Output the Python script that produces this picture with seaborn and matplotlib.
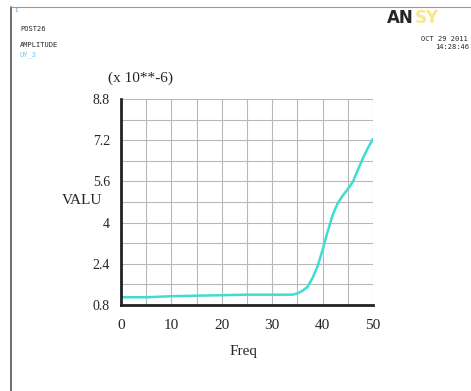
import matplotlib
matplotlib.use('Agg')
import matplotlib.pyplot as plt
import seaborn as sns
import pandas as pd

# valori (ampiezza x 10**-6)
freq = [0, 5, 10, 15, 20, 25, 30, 34, 35, 36, 37, 38, 39, 40, 41, 42, 43, 44, 45, 46, 47, 48, 49, 50]
valu = [1.1, 1.1, 1.14, 1.16, 1.18, 1.2, 1.2, 1.2, 1.25, 1.35, 1.5, 1.85, 2.3, 2.95, 3.65, 4.3, 4.75,
        5.05, 5.3, 5.58, 6.05, 6.5, 6.9, 7.25]
y_ticks = [0.8, 2.4, 4, 5.6, 7.2, 8.8]
x_ticks = [0, 10, 20, 30, 40, 50]

df = pd.DataFrame({'Freq': freq, 'VALU': valu})

sns.set_style('white')
plt.rcParams['font.family'] = ['Liberation Serif', 'DejaVu Serif']

fig = plt.figure(figsize=(4.71, 3.91), dpi=100)
ax = fig.add_axes([0.257, 0.22, 0.535, 0.527])

sns.lineplot(data=df, x='Freq', y='VALU', color='#3fdcd2', linewidth=1.8, ax=ax)

ax.set_xlim(0, 50)
ax.set_ylim(0.8, 8.8)
ax.set_xticks([i * 5 for i in range(11)], minor=True)
ax.set_yticks([0.8 + i * 0.8 for i in range(11)], minor=True)
ax.set_xticks(x_ticks)
ax.set_yticks(y_ticks)
ax.set_xticklabels([str(v) for v in x_ticks], fontsize=11)
ax.set_yticklabels([str(v) for v in y_ticks], fontsize=10)
ax.grid(True, which='both', color='#b8b8b8', linewidth=0.8)
ax.tick_params(which='both', length=0, pad=8)
ax.tick_params(axis='x', pad=10)

for s in ['top', 'right']:
    ax.spines[s].set_visible(False)
for s in ['left', 'bottom']:
    ax.spines[s].set_color('#222222')
    ax.spines[s].set_linewidth(2)
ax.set_axisbelow(True)

ax.set_xlabel('')
ax.set_ylabel('')
fig.text(243 / 471, 1 - 351 / 391, 'Freq', fontsize=11, ha='center', va='center')
fig.text(82 / 471, 1 - 200 / 391, 'VALU', fontsize=11, ha='center', va='center')
fig.text(140 / 471, 1 - 78 / 391, '(x 10**-6)', fontsize=11, ha='center', va='center')

# cornice e intestazione stile ANSYS
fig.add_artist(plt.Line2D([11 / 471, 11 / 471], [0, 1 - 7 / 391], color='#555555', linewidth=1.2))
fig.add_artist(plt.Line2D([11 / 471, 1], [1 - 7 / 391, 1 - 7 / 391], color='#999999', linewidth=0.8))
fig.text(14 / 471, 1 - 12 / 391, '1', fontsize=4, color='#3fa0d0', family='DejaVu Sans Mono')
fig.text(20 / 471, 1 - 29 / 391, 'POST26', fontsize=5, family='DejaVu Sans Mono', va='center')
fig.text(20 / 471, 1 - 45 / 391, 'AMPLITUDE', fontsize=5, family='DejaVu Sans Mono', va='center')
fig.text(20 / 471, 1 - 55 / 391, 'UY_3', fontsize=5, color='#60c8e8', family='DejaVu Sans Mono', va='center')
fig.text(387 / 471, 1 - 18 / 391, 'AN', fontsize=12, fontweight='bold', family='DejaVu Sans',
         ha='left', va='center')
fig.text(415 / 471, 1 - 18 / 391, 'SY', fontsize=12, fontweight='bold', family='DejaVu Sans',
         color='#f5e88a', ha='left', va='center')
fig.text(444 / 471, 1 - 39 / 391, 'OCT 29 2011', fontsize=5, family='DejaVu Sans Mono', ha='center', va='center')
fig.text(452 / 471, 1 - 47 / 391, '14:28:46', fontsize=5, family='DejaVu Sans Mono', ha='center', va='center')

fig.savefig('out.png', dpi=100, facecolor='white')
